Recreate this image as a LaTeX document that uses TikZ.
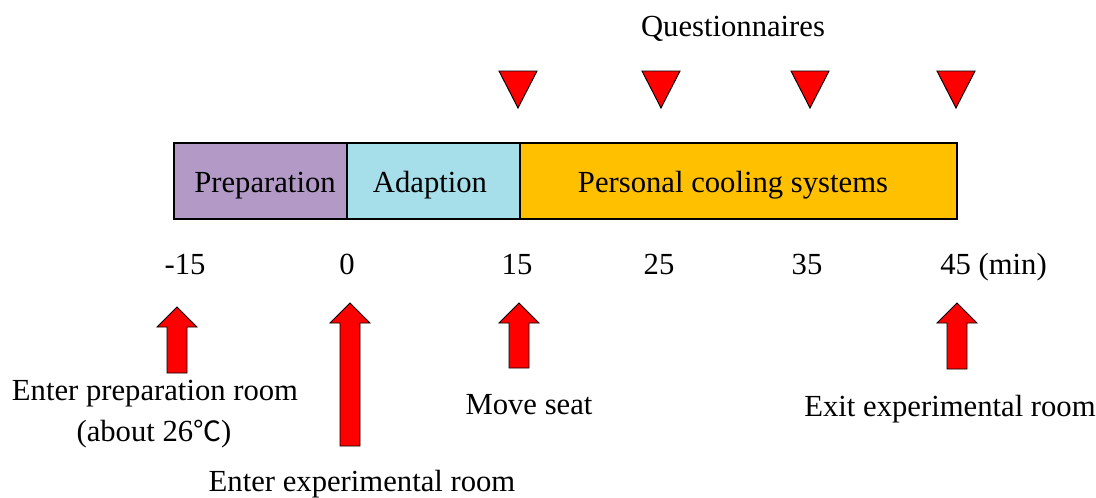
\documentclass[tikz,border=0pt]{standalone}
\usepackage{fontspec}
\setmainfont{Liberation Serif}
\newfontfamily\cjk{Noto Sans CJK SC}
\definecolor{cprep}{HTML}{B39AC6}
\definecolor{cadapt}{HTML}{A6DFEA}
\definecolor{cpcs}{HTML}{FFC000}
\definecolor{cred}{HTML}{FF0000}
\newcommand{\uparrowshape}[3]{% x, tip y, bottom y
  \filldraw[arrowbody] (#1-10,#3) -- (#1+10,#3) -- (#1+10,#2+20) -- (#1+20,#2+20) -- (#1,#2) -- (#1-20,#2+20) -- (#1-10,#2+20) -- cycle;}
\newcommand{\downtri}[1]{%
  \filldraw[arrowbody] (#1-19,71) -- (#1+19,71) -- (#1,108) -- cycle;}
\begin{document}
\begin{tikzpicture}[x=0.75pt,y=-0.75pt,
  every node/.style={font=\fontsize{23}{27}\selectfont, inner sep=0pt},
  seg/.style={draw=black, line width=1.1pt},
  arrowbody/.style={fill=cred, draw=black, line width=0.7pt, line join=miter},
  lbl/.style={anchor=base}]
\useasboundingbox (0,0) rectangle (1096,497);
% bar
\filldraw[seg, fill=cprep] (174,143) rectangle (347,219);
\filldraw[seg, fill=cadapt] (347,143) rectangle (520,219);
\filldraw[seg, fill=cpcs] (520,143) rectangle (957,219);
\node[lbl] (prep) at (265,192) {Preparation};
\node[lbl] (adapt) at (430,192) {Adaption};
\node[lbl] (pcs) at (733,192) {Personal cooling systems};
% questionnaires
\node[lbl] (q) at (733,36) {Questionnaires};
\downtri{518}
\downtri{661}
\downtri{810}
\downtri{956}
% ticks
\node[lbl] (t1) at (185,274) {-15};
\node[lbl] (t2) at (347,274) {0};
\node[lbl] (t3) at (517,274) {15};
\node[lbl] (t4) at (659,274) {25};
\node[lbl] (t5) at (807,274) {35};
\node[lbl, anchor=base west] (t6) at (940,274) {45 (min)};
% arrows
\uparrowshape{177}{307}{373}
\uparrowshape{350}{303}{446}
\uparrowshape{519}{303}{368}
\uparrowshape{957}{303}{369}
% labels
\node[lbl] (a1) at (155,400) {Enter preparation room};
\node[lbl] (a1b) at (154,441) {(about 26{\cjk\fontsize{21}{25}\selectfont ℃})};
\node[lbl] (a2) at (362,491) {Enter experimental room};
\node[lbl] (a3) at (529,414) {Move seat};
\node[lbl] (a4) at (950,416) {Exit experimental room};
\end{tikzpicture}
\end{document}
